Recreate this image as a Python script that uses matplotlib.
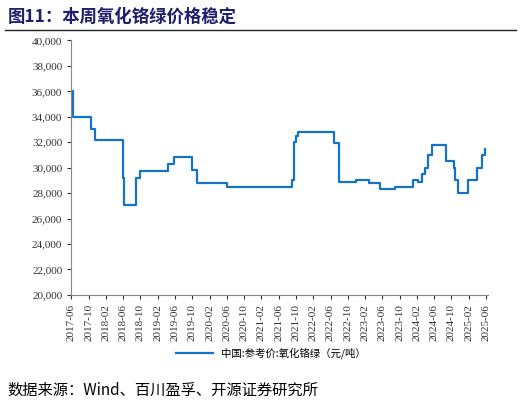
import matplotlib
matplotlib.use("Agg")
import matplotlib.pyplot as plt
from matplotlib.lines import Line2D

plt.rcParams['font.family'] = ['Liberation Serif', 'Noto Sans CJK SC']

# months since 2017-06 at which price changes, and value after change
change_months = [0, 0.3, 4.5, 5.5, 12, 12.2, 14.9, 16, 22.3, 23.8, 28, 29.2, 36, 51, 51.5, 52, 52.5,
                 60.7, 62, 66, 68.9, 71.4, 75, 79, 80.2, 81.2, 81.8, 82.5, 83.5, 86.7, 88.5, 88.9,
                 89.5, 91.8, 94, 95, 95.7]
prices = [36000, 34000, 33000, 32200, 29200, 27100, 29200, 29700, 30300, 30800, 29800, 28800, 28500,
          29000, 32000, 32500, 32800, 31900, 28900, 29000, 28800, 28300, 28500, 29000, 28900, 29500,
          30000, 31000, 31800, 30500, 30000, 29000, 28000, 29000, 30000, 31000, 31500]
tick_labels = []
y, m = 2017, 6
for i in range(25):
    tick_labels.append(f"{y}-{m:02d}")
    m += 4
    if m > 12:
        m -= 12; y += 1

fig = plt.figure(figsize=(5.21, 4.04), dpi=100)
ax = fig.add_axes([0.137, 0.27, 0.80, 0.63])
ax.step(change_months, prices, where='post', color='#1473C6', lw=1.6)
ax.set_xlim(0, 96.5)
ax.set_ylim(20000, 40000)
ax.set_yticks(range(20000, 40001, 2000))
ax.set_yticklabels([f"{v:,}" for v in range(20000, 40001, 2000)], fontsize=8)
ax.set_xticks(range(0, 97, 4))
ax.set_xticklabels(tick_labels, rotation=90, fontsize=8)
for s in ['top', 'right']:
    ax.spines[s].set_visible(False)
for s in ['left', 'bottom']:
    ax.spines[s].set_color('#888888')
ax.tick_params(colors='#333333', length=3)

fig.legend([Line2D([], [], color='#1473C6', lw=1.6)], ['中国:参考价:氧化铬绿（元/吨）'],
           loc='center', bbox_to_anchor=(0.52, 0.125), frameon=False,
           prop={'family': ['Noto Sans CJK SC'], 'size': 7.5}, handlelength=3.5)

fig.text(0.015, 0.958, '图11：本周氧化铬绿价格稳定', fontsize=12.5, fontweight='bold',
         color='#1F1F6B', family=['Noto Sans CJK SC'], va='center')
fig.add_artist(Line2D([0.01, 0.99], [0.925, 0.925], color='#222222', lw=1))
fig.text(0.015, 0.035, '数据来源：Wind、百川盈孚、开源证券研究所', fontsize=11,
         family=['Noto Sans CJK SC'], va='center')
fig.savefig('out.png', dpi=100)
